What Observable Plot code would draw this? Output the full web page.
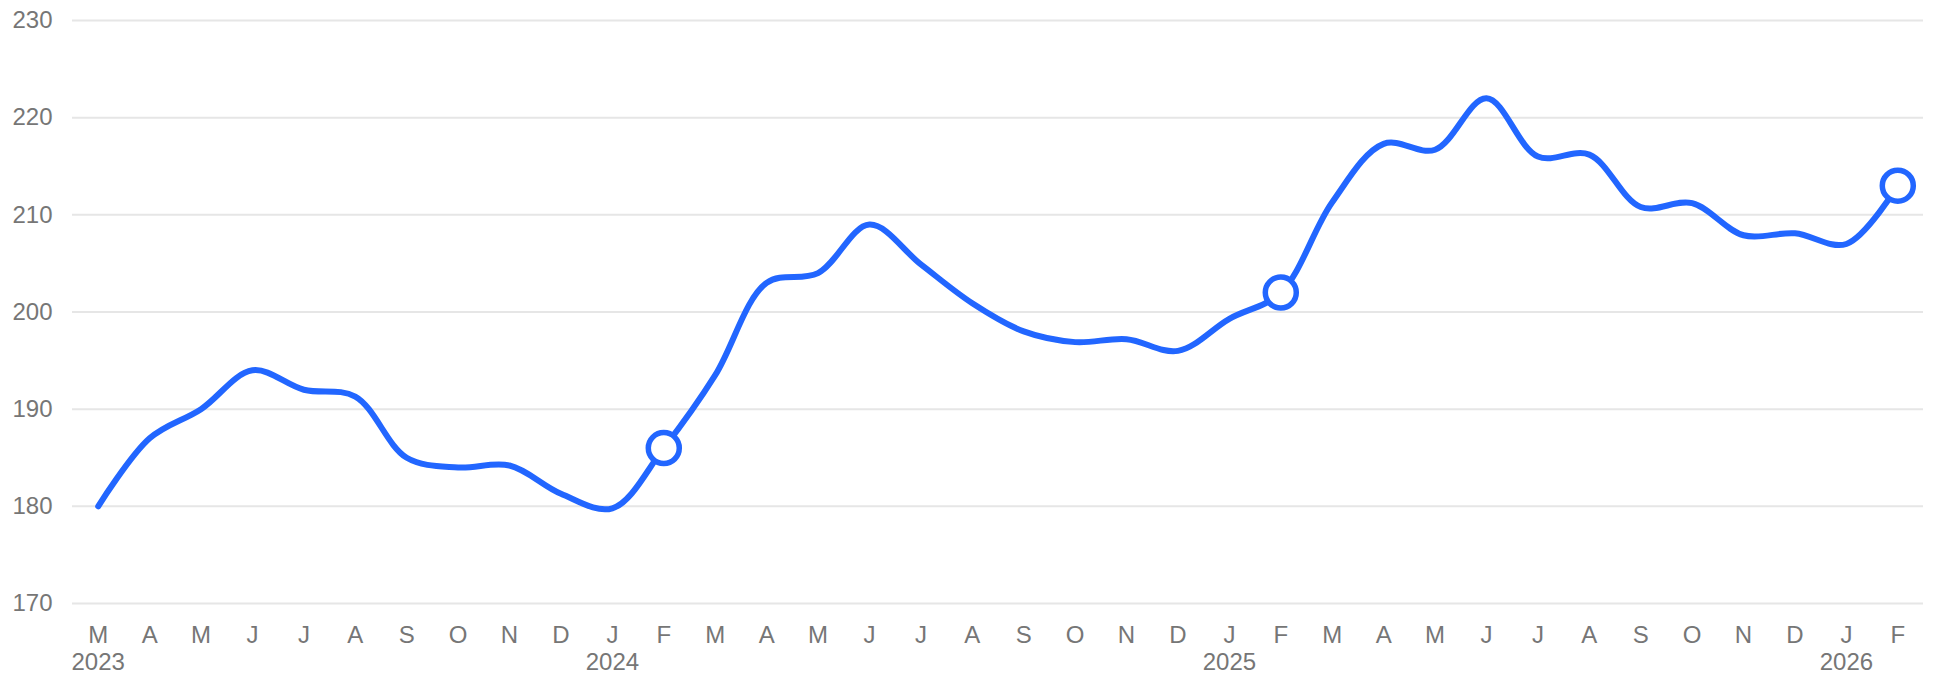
<!DOCTYPE html>
<html>
<head>
<meta charset="utf-8">
<script src="https://cdn.jsdelivr.net/npm/d3@7"></script>
<script src="https://cdn.jsdelivr.net/npm/@observablehq/plot@0.6"></script>
<style>
  html, body { margin: 0; padding: 0; background: #ffffff; }
  svg { display: block; }
</style>
</head>
<body>
<div id="chart"></div>
<script>
// Monthly series, March 2023 – February 2026
const monthLetters = ["M","A","M","J","J","A","S","O","N","D","J","F",
                      "M","A","M","J","J","A","S","O","N","D","J","F",
                      "M","A","M","J","J","A","S","O","N","D","J","F"];
const values = [180, 187, 190, 194, 192, 191.3, 185, 184, 184.2, 181.3, 179.8, 186,
                193.5, 203, 204, 209, 204.9, 200.9, 198, 196.9, 197.2, 196, 199.3, 202,
                211.3, 217.3, 216.7, 222, 216, 216.2, 210.8, 211.2, 207.9, 208.1, 207, 213];
const yearLabels = ["2023", "2024", "2025", "2026"];
const yearIndex = [0, 10, 22, 34];
const highlightIndex = [11, 23, 35];
const yTicks = [170, 180, 190, 200, 210, 220, 230];

const idx = d3.range(values.length);
const tickLabel = (i) => {
  const k = yearIndex.indexOf(i);
  return k >= 0 ? monthLetters[i] + "\n" + yearLabels[k] : monthLetters[i];
};

const chart = Plot.plot({
  width: 1933,
  height: 676,
  marginLeft: 72,
  marginRight: 10,
  marginTop: 20,
  marginBottom: 73,
  style: {
    fontFamily: "'Liberation Sans', Arial, Helvetica, sans-serif",
    fontSize: "24px",
    color: "#767676",
    background: "#ffffff"
  },
  x: { domain: [-0.5, values.length - 0.5] },
  y: { domain: [170, 230] },
  marks: [
    Plot.gridY({ ticks: yTicks, stroke: "#e6e6e6", strokeOpacity: 1, strokeWidth: 2 }),
    Plot.axisY({ ticks: yTicks, tickSize: 0, tickPadding: 20, fontSize: 24, label: null }),
    Plot.axisX({ ticks: idx, tickSize: 0, tickPadding: 21, fontSize: 24, lineHeight: 1.1,
                 tickFormat: tickLabel, label: null }),
    Plot.line(idx, { x: (i) => i, y: (i) => values[i], curve: "catmull-rom",
                     stroke: "#2266ff", strokeWidth: 6 }),
    Plot.dot(highlightIndex, { x: (i) => i, y: (i) => values[i], r: 15.5,
                               fill: "#ffffff", stroke: "#2266ff", strokeWidth: 5.5 })
  ]
});
document.getElementById("chart").appendChild(chart);
</script>
</body>
</html>
